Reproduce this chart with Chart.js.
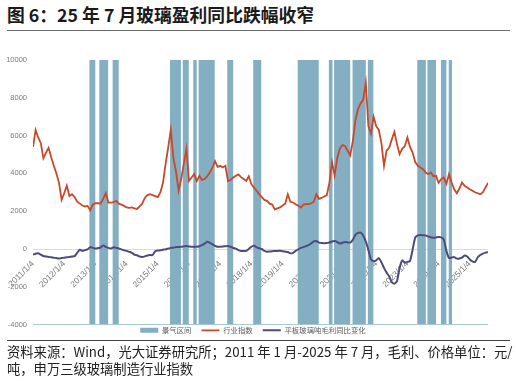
<!DOCTYPE html>
<html>
<head>
<meta charset="utf-8">
<script src="https://cdn.jsdelivr.net/npm/chart.js"></script>
<style>
  html, body { margin: 0; padding: 0; background: #fff; }
  body { width: 516px; height: 381px; position: relative; overflow: hidden; }
  #title { position: absolute; left: 7px; top: 4px; font: bold 17.8px/21px 'Noto Sans CJK SC', sans-serif; color: #1a1a1a; white-space: nowrap; }
  #tline { position: absolute; left: 7px; top: 30px; width: 503px; height: 0; border-top: 1.5px solid #6b6b6b; }
  #wrap { position: absolute; left: 0; top: 36px; width: 516px; height: 316px; }
  #fline { position: absolute; left: 7px; top: 340px; width: 503px; height: 0; border-top: 1px solid #444; }
  #foot { position: absolute; left: 7px; top: 344px; font: 13.3px/16.5px 'Noto Sans CJK SC', sans-serif; color: #222; white-space: nowrap; }
</style>
</head>
<body>
<div id="title">图 6：25 年 7 月玻璃盈利同比跌幅收窄</div>
<div id="tline"></div>
<div id="wrap"><canvas id="c" width="516" height="316"></canvas></div>
<div id="fline"></div>
<div id="foot">资料来源：Wind，光大证券研究所；2011 年 1 月-2025 年 7 月，毛利、价格单位：元/<br>吨，申万三级玻璃制造行业指数</div>
<script>
// ---------------- data ----------------
const startYear = 2011;           // monthly series start: 2011-01
const seriesNames = ['景气区间', '行业指数', '平板玻璃吨毛利同比变化'];

// 申万三级玻璃制造行业指数 (monthly readings, 2011-01 .. 2025-08-01)
const industryIndex = [
  5400,6300,5900,5600,4800,5100,5350,4850,4400,4000,3500,2600,
  2950,3350,2800,2900,2750,2500,2400,2300,2250,2280,2050,2350,
  2420,2420,2400,2650,2950,2450,2450,2480,2550,2400,2350,2280,
  2200,2180,2200,2150,2120,2250,2400,2700,2850,2900,2850,2800,
  2750,2990,3500,4500,5370,6300,4800,4100,3100,3700,4500,5300,
  3600,3780,3960,3600,3870,3650,3700,3850,4050,4300,4650,4350,
  4400,4310,4400,3600,3650,3780,3870,3950,3800,3700,3600,3850,
  3430,3250,3080,2900,2750,2600,2550,2400,2350,2100,2150,2200,
  2300,2400,2900,2500,2460,2370,2300,2190,2350,2370,2370,2420,
  2500,2900,2650,2700,2780,2850,3500,4600,3900,4800,5300,5500,
  5450,5200,4950,5700,6800,7400,7700,7900,8800,6500,6100,7000,
  6500,6300,5600,4400,5200,5370,5800,6200,5550,5020,5300,5450,
  5900,5400,5100,4600,4400,4310,4220,4050,3960,4050,3850,3870,
  3500,3700,3780,3450,3960,3520,3160,2950,3200,3520,3340,3250,
  3160,3080,3000,2950,2900,2990,3250,3500
];

// 平板玻璃吨毛利同比变化 (monthly readings)
const grossProfitYoY = [
  -300,-250,-230,-300,-370,-400,-420,-440,-460,-480,-500,-480,
  -460,-440,-420,-400,-380,-200,-40,-100,-60,-20,100,60,
  20,50,80,190,110,60,30,90,60,30,-20,-70,
  -100,-150,-200,-300,-330,-400,-420,-390,-340,-320,-320,-120,
  -80,-70,-40,-20,20,60,70,100,110,120,140,160,
  130,120,120,120,150,200,280,380,330,250,170,120,
  120,130,150,160,120,60,20,-60,-100,-100,-100,0,
  120,190,80,40,0,-100,-140,-130,-120,-100,-100,-90,
  -120,-140,-160,-230,-200,-100,-20,60,100,150,200,300,
  400,420,340,320,300,320,340,400,420,370,290,330,
  370,350,340,480,750,850,870,720,400,-50,-550,-640,
  -600,-480,-700,-1000,-1250,-1450,-1750,-1840,-1700,-1000,-600,-730,
  -680,-640,-40,600,720,740,730,720,660,620,600,610,
  630,620,500,-100,-480,-450,-430,-510,-500,-460,-340,-400,
  -550,-650,-690,-450,-320,-250,-190,-170
];

// 景气区间: [start, end]
const boomStarts = ['2012-10-20','2013-02-16','2013-07-20','2015-05-22','2015-10-19','2016-02-20','2016-04-22','2017-03-22','2018-01-22','2019-06-25','2020-06-25','2020-08-25','2021-03-28','2021-09-25','2023-04-25','2023-08-22','2024-01-28','2024-04-28'];
const boomEnds   = ['2012-12-30','2013-05-28','2013-09-30','2015-09-28','2015-12-28','2016-03-30','2016-10-28','2017-06-01','2018-04-25','2020-02-28','2020-08-07','2021-03-01','2021-09-01','2021-11-28','2023-08-04','2023-12-01','2024-04-01','2024-06-07'];

// axes
const tickYears  = [2011,2012,2013,2014,2015,2016,2017,2018,2019,2020,2021,2022,2023,2024,2025];
const tickLabels = ['2011/1/4','2012/1/4','2013/1/4','2014/1/4','2015/1/4','2016/1/4','2017/1/4','2018/1/4','2019/1/4','2020/1/4','2021/1/4','2022/1/4','2023/1/4','2024/1/4','2025/1/4'];
const yTicks = [-4000,-2000,0,2000,4000,6000,8000,10000];
const X_MIN = 2011, X_MAX = 2025 + 7/12;
const Y_MIN = -4000, Y_MAX = 10000;

// ---------------- helpers ----------------
function toYear(s) {
  const [y, m, d] = s.split('-').map(Number);
  return y + (m - 1 + (d - 1) / 30) / 12;
}
const monthX = i => startYear + i / 12;
const idxPts = industryIndex.map((v, i) => ({ x: monthX(i), y: v }));
const gpPts  = grossProfitYoY.map((v, i) => ({ x: monthX(i), y: v }));
const boomPts = [];
boomStarts.forEach((s, k) => {
  const a = toYear(s), b = toYear(boomEnds[k]);
  boomPts.push({ x: a, y: Y_MIN }, { x: a, y: Y_MAX }, { x: b, y: Y_MAX }, { x: b, y: Y_MIN });
});

const legendShift = {
  id: 'legendShift',
  afterLayout(chart) {
    const l = chart.legend;
    if (l) { l.top -= 8; l.bottom -= 8; l.left += 9; l.right += 9; }
  }
};

new Chart(document.getElementById('c'), {
  type: 'line',
  data: {
    datasets: [
      { label: seriesNames[0], data: boomPts, backgroundColor: '#84afc3', borderColor: 'rgba(0,0,0,0)',
        borderWidth: 0, pointRadius: 0, pointStyle: 'rect', fill: 'start', tension: 0, order: 3 },
      { label: seriesNames[1], data: idxPts, borderColor: '#c9482a', backgroundColor: '#c9482a',
        borderWidth: 1.8, pointRadius: 0, pointStyle: 'line', fill: false, tension: 0, order: 2 },
      { label: seriesNames[2], data: gpPts, borderColor: '#4c4b7d', backgroundColor: '#4c4b7d',
        borderWidth: 2, pointRadius: 0, pointStyle: 'line', fill: false, tension: 0.2, order: 1 }
    ]
  },
  options: {
    responsive: false,
    animation: false,
    devicePixelRatio: 1,
    layout: { padding: { top: 24, right: 28, left: 0, bottom: 0 } },
    plugins: {
      tooltip: { enabled: false },
      legend: {
        position: 'bottom',
        labels: {
          usePointStyle: true, pointStyleWidth: 18, boxHeight: 5, padding: 10,
          color: '#595959', font: { size: 7.4, family: "'Noto Sans CJK SC'" },
          sort: (a, b) => a.datasetIndex - b.datasetIndex
        }
      }
    },
    scales: {
      x: {
        type: 'linear', min: X_MIN, max: X_MAX,
        position: { y: 0 }, z: 1,
        grid: { display: false }, border: { display: false },
        afterBuildTicks: axis => { axis.ticks = tickYears.map(v => ({ value: v })); },
        ticks: {
          autoSkip: false, minRotation: 45, maxRotation: 45, padding: 2,
          color: '#7a7a7a', font: { size: 8.5, family: "'Liberation Sans'" },
          callback: v => { const k = tickYears.indexOf(v); return k >= 0 ? tickLabels[k] : ''; }
        }
      },
      y: {
        min: Y_MIN, max: Y_MAX,
        afterBuildTicks: axis => { axis.ticks = yTicks.map(v => ({ value: v })); },
        afterFit: s => { s.width = 33; },
        border: { display: false },
        grid: {
          drawTicks: false,
          color: c => (c.tick && c.tick.value === 0) ? '#d9d9d9' : (c.tick && c.tick.value === Y_MIN ? '#a9c9d8' : 'rgba(0,0,0,0)')
        },
        ticks: { padding: 6, color: '#7a7a7a', font: { size: 7.5, family: "'Liberation Sans'" },
                 callback: v => String(v) }
      }
    }
  },
  plugins: [legendShift]
});
</script>
</body>
</html>
